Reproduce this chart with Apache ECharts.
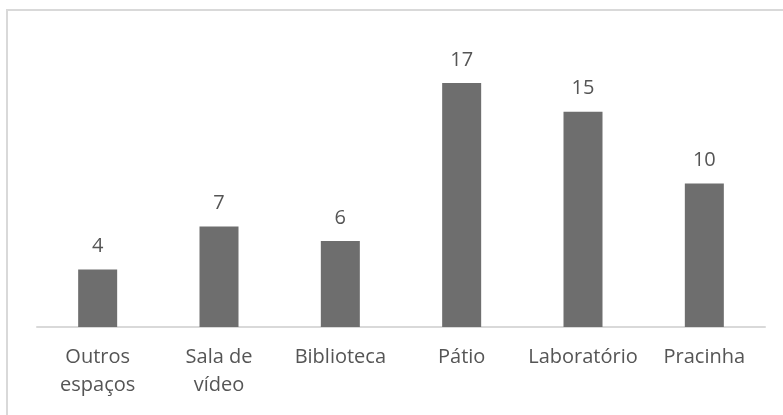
<!DOCTYPE html>
<html>
<head>
<meta charset="utf-8">
<script src="https://cdn.jsdelivr.net/npm/echarts@6/dist/echarts.min.js"></script>
<style>
  html, body { margin: 0; padding: 0; background: #ffffff; }
  #chart { width: 783px; height: 415px; }
</style>
</head>
<body>
<div id="chart"></div>
<script>
// Espaços da escola e número de ocorrências
const categories = ['Outros\nespaços', 'Sala de\nvídeo', 'Biblioteca', 'Pátio', 'Laboratório', 'Pracinha'];
const values = [4, 7, 6, 17, 15, 10];

const textColor = '#555555';
const fontFamily = '"Open Sans", "Noto Sans", sans-serif';

const chart = echarts.init(document.getElementById('chart'), null, { renderer: 'canvas' });
chart.setOption({
  animation: false,
  backgroundColor: '#ffffff',
  graphic: [{
    type: 'rect',
    shape: { x: 7, y: 10, width: 820, height: 460 },
    style: { fill: 'none', stroke: '#d9d9d9', lineWidth: 2 },
    silent: true
  }],
  grid: { left: 37, right: 18, top: 40, bottom: 88 },
  xAxis: {
    type: 'category',
    data: categories,
    axisLine: { show: true, lineStyle: { color: '#d9d9d9', width: 2 } },
    axisTick: { show: false },
    axisLabel: {
      color: textColor, fontFamily: fontFamily, fontSize: 20,
      lineHeight: 28, margin: 16, interval: 0
    }
  },
  yAxis: {
    type: 'value',
    min: 0, max: 20,
    show: false,
    splitLine: { show: false }
  },
  series: [{
    type: 'bar',
    data: values,
    barWidth: 39,
    itemStyle: { color: '#6e6e6e' },
    label: {
      show: true, position: 'top', distance: 13,
      color: textColor, fontFamily: fontFamily, fontSize: 20
    }
  }]
});
</script>
</body>
</html>
